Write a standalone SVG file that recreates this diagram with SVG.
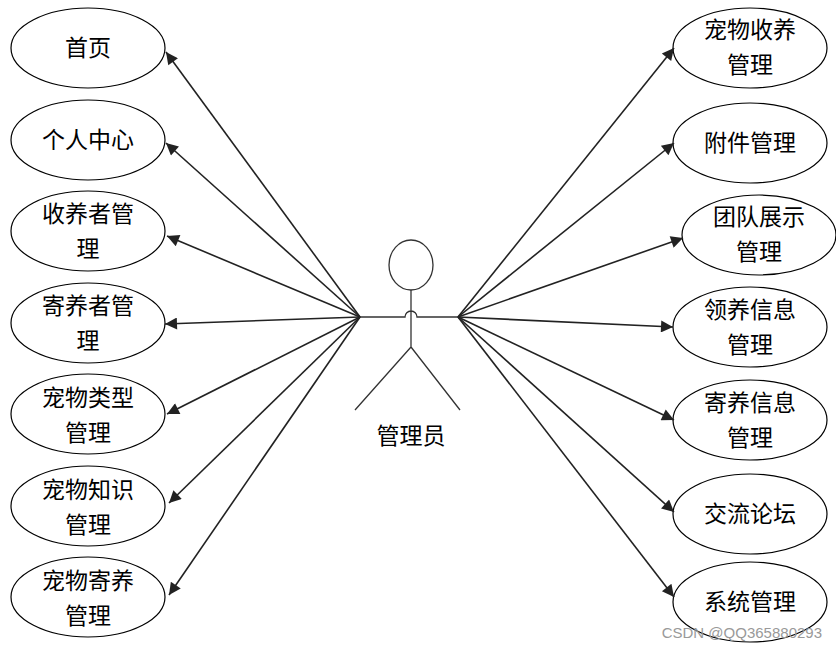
<svg xmlns="http://www.w3.org/2000/svg" width="836" height="650" viewBox="0 0 836 650">
<style>
.n ellipse{fill:#fff;stroke:#000;stroke-width:1.2}
text{font-family:"Noto Sans CJK SC","Liberation Sans",sans-serif;font-size:23px;fill:#000;text-anchor:middle}
.c line{stroke:#222;stroke-width:1.6;marker-end:url(#a)}
.wm{font-family:"Liberation Sans",sans-serif;font-size:15px;fill:#999;text-anchor:end}
</style>
<defs><marker id="a" viewBox="0 0 10 10" refX="10" refY="5" markerWidth="17" markerHeight="12" orient="auto" markerUnits="userSpaceOnUse"><path d="M0,0L10,5L0,10z" fill="#222"/></marker></defs>
<rect width="836" height="650" fill="#fff"/>
<g class="n" id="l1"><ellipse cx="88" cy="48" rx="77" ry="40"/><text x="88" y="56">首页</text></g>
<g class="n" id="l2"><ellipse cx="88" cy="140" rx="77" ry="40"/><text x="88" y="148">个人中心</text></g>
<g class="n" id="l3"><ellipse cx="88" cy="231" rx="77" ry="40"/><text x="88" y="222">收养者管</text><text x="88" y="257">理</text></g>
<g class="n" id="l4"><ellipse cx="88" cy="323" rx="77" ry="40"/><text x="88" y="314">寄养者管</text><text x="88" y="349">理</text></g>
<g class="n" id="l5"><ellipse cx="88" cy="414" rx="77" ry="40"/><text x="88" y="406">宠物类型</text><text x="88" y="441">管理</text></g>
<g class="n" id="l6"><ellipse cx="88" cy="506" rx="77" ry="40"/><text x="88" y="498">宠物知识</text><text x="88" y="533">管理</text></g>
<g class="n" id="l7"><ellipse cx="88" cy="597" rx="77" ry="40"/><text x="88" y="589">宠物寄养</text><text x="88" y="624">管理</text></g>
<g class="n" id="r1"><ellipse cx="750" cy="48" rx="77" ry="40"/><text x="750" y="38">宠物收养</text><text x="750" y="73">管理</text></g>
<g class="n" id="r2"><ellipse cx="750" cy="143" rx="77" ry="40"/><text x="750" y="151">附件管理</text></g>
<g class="n" id="r3"><ellipse cx="759" cy="235" rx="77" ry="40"/><text x="759" y="225">团队展示</text><text x="759" y="260">管理</text></g>
<g class="n" id="r4"><ellipse cx="750" cy="327" rx="77" ry="40"/><text x="750" y="318">领养信息</text><text x="750" y="353">管理</text></g>
<g class="n" id="r5"><ellipse cx="750" cy="420" rx="77" ry="40"/><text x="750" y="411">寄养信息</text><text x="750" y="446">管理</text></g>
<g class="n" id="r6"><ellipse cx="750" cy="514" rx="77" ry="40"/><text x="750" y="522">交流论坛</text></g>
<g class="n" id="r7"><ellipse cx="750" cy="602" rx="77" ry="40"/><text x="750" y="610">系统管理</text></g>
<g id="actor" fill="none" stroke="#333" stroke-width="1.3">
<ellipse cx="411" cy="265" rx="22" ry="25" fill="#fff"/>
<path d="M411,290V347M360,317H405A6,6 0 0 1 417,317H458M411,347L355,410M411,347L460,410"/>
</g>
<text x="411" y="444">管理员</text>
<g class="c">
<line x1="360" y1="317" x2="166" y2="52"/>
<line x1="360" y1="317" x2="166" y2="143"/>
<line x1="360" y1="317" x2="167" y2="236"/>
<line x1="360" y1="317" x2="165" y2="324"/>
<line x1="360" y1="317" x2="167" y2="414"/>
<line x1="360" y1="317" x2="169" y2="503"/>
<line x1="360" y1="317" x2="169" y2="595"/>
<line x1="458" y1="317" x2="674" y2="48"/>
<line x1="458" y1="317" x2="674" y2="143"/>
<line x1="458" y1="317" x2="683" y2="238"/>
<line x1="458" y1="317" x2="673" y2="327"/>
<line x1="458" y1="317" x2="674" y2="420"/>
<line x1="458" y1="317" x2="674" y2="512"/>
<line x1="458" y1="317" x2="674" y2="597"/>
</g>
<text class="wm" x="822" y="638">CSDN @QQ365880293</text>
</svg>
